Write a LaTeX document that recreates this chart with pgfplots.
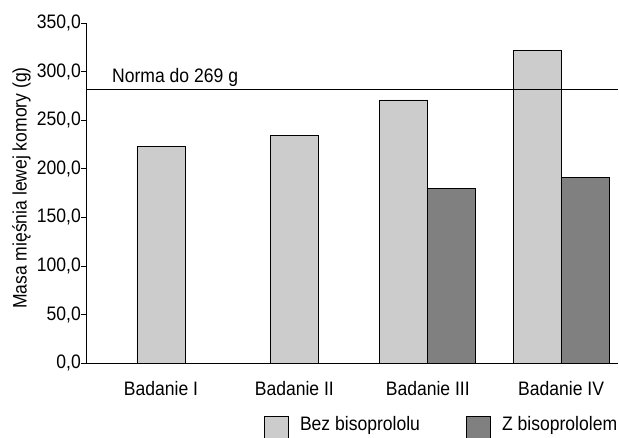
\documentclass[border=0pt]{standalone}
\usepackage{pgfplots}
\pgfplotsset{compat=1.18}
\usepackage{fontspec}
\setmainfont{Liberation Sans}[FakeStretch=0.9]
\definecolor{barlight}{HTML}{CCCCCC}
\definecolor{bardark}{HTML}{808080}
\pgfplotsset{sqlegend/.style={legend image code/.code={\draw[##1,line width=0.8pt] (0pt,-9.7pt) rectangle (24pt,14.3pt);}}}
\begin{document}
\begin{tikzpicture}[font=\fontsize{19.5pt}{23pt}\selectfont]
\useasboundingbox (-86pt,-74pt) rectangle (533pt,363pt);
\begin{axis}[
  at={(0pt,0pt)}, anchor=south west,
  scale only axis, width=532pt, height=339.7pt,
  xmin=-0.562, xmax=3.426, ymin=0, ymax=350,
  axis x line=bottom, axis y line=left,
  axis line style={-, line width=0.8pt, black},
  xtick={0,1,2,3},
  xticklabels={Badanie I, Badanie II, Badanie III, Badanie IV},
  xtick style={draw=none},
  ytick={0,50,...,350},
  ytick style={line width=0.8pt, black},
  tick align=outside, major tick length=5pt,
  /pgf/number format/.cd, fixed, fixed zerofill, precision=1, use comma, assume math mode=true, 1000 sep={},
  /pgfplots/.cd,
  yticklabel style={anchor=east, inner sep=0pt},
  xticklabel style={anchor=base, inner sep=0pt, yshift=-27pt},
  ylabel={Masa mięśnia lewej komory (g)},
  every axis y label/.style={at={(axis description cs:-0.1115,0.515)}, rotate=90, anchor=base},
  legend columns=2,
  legend style={draw=none, fill=none, at={(axis description cs:0.3333,-0.155)}, anchor=north west,
    inner sep=0pt, nodes={inner sep=0pt, anchor=base west},
    /tikz/every odd column/.append style={column sep=11.7pt},
    /tikz/every even column/.append style={column sep=45.6pt}},
]
\addplot[ybar, bar width=48pt, bar shift=0pt, fill=barlight, draw=black, line width=0.8pt, sqlegend] coordinates {(0,223.5) (1,234.5)};
\addlegendentry{Bez bisoprololu}
\addplot[ybar, bar width=48pt, bar shift=-24pt, fill=barlight, draw=black, line width=0.8pt, forget plot] coordinates {(2,271) (3,322)};
\addplot[ybar, bar width=48pt, bar shift=24pt, fill=bardark, draw=black, line width=0.8pt, sqlegend] coordinates {(2,180) (3,191)};
\addlegendentry{Z bisoprololem}
\addplot[black, line width=0.8pt, forget plot] coordinates {(-0.562,282) (3.426,282)};
\node[anchor=base west, inner sep=0pt] at (axis cs:-0.367,289) {Norma do 269 g};
\end{axis}
\end{tikzpicture}
\end{document}
